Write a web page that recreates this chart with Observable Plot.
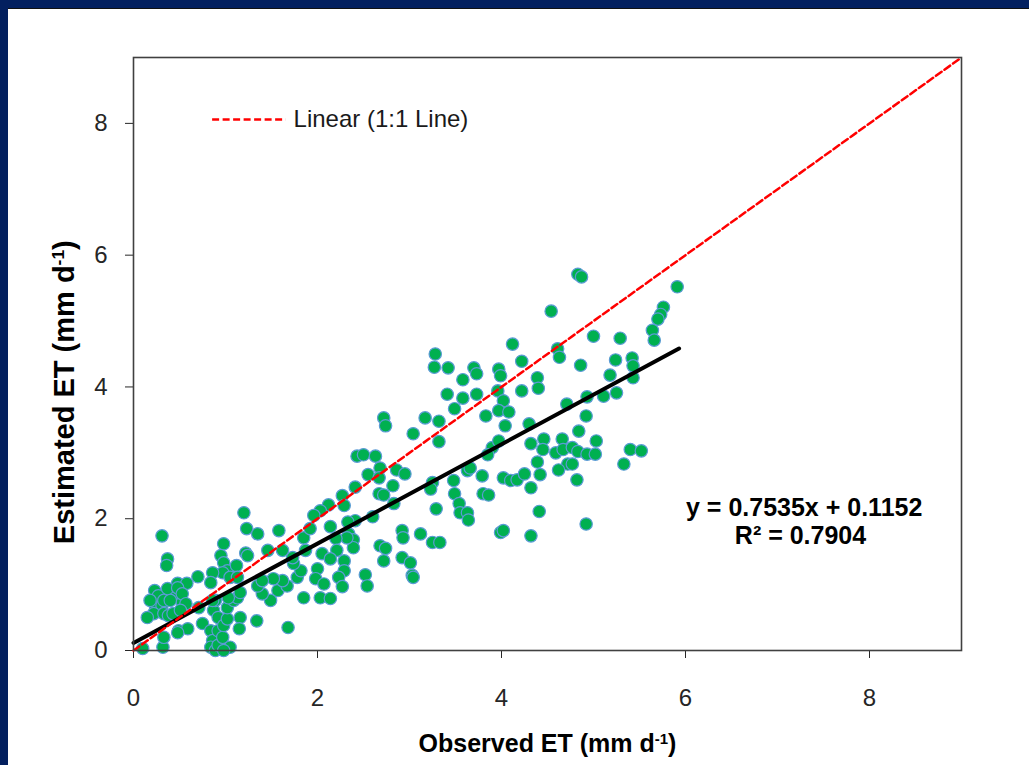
<!DOCTYPE html>
<html><head><meta charset="utf-8">
<script src="https://cdn.jsdelivr.net/npm/d3@7"></script>
<script src="https://cdn.jsdelivr.net/npm/@observablehq/plot@0.6"></script>
<style>
html,body{margin:0;padding:0;}
body{width:1029px;height:765px;background:#03205f;position:relative;overflow:hidden;}
#panel{position:absolute;left:8px;top:8px;right:0;bottom:0;background:#fff;border-top:1px solid #111;}
#chart{position:absolute;left:0;top:0;}
</style></head><body><div id="panel"></div><div id="chart"></div>
<script>
// Observed ET (mm/d) and estimated ET (mm/d)
const observed = [
  0.31,0.37,0.36,1.20,1.23,1.35,1.58,0.98,0.95,0.98,1.02,0.97,1.05,1.22,1.24,1.46,0.70,0.86,0.84,1.12,
  1.13,0.48,0.58,0.23,0.27,0.24,0.31,0.22,0.33,0.38,0.43,0.53,0.15,0.43,0.49,0.59,0.32,0.10,0.75,0.87,
  0.92,0.89,0.86,0.84,0.86,0.84,0.89,0.92,0.92,0.97,0.98,1.02,1.02,1.09,1.13,1.03,1.16,1.16,1.15,1.05,
  0.98,1.34,1.68,1.49,1.40,1.57,1.67,1.62,1.78,1.82,1.74,1.73,1.62,1.85,1.52,1.35,1.40,1.85,1.87,0.18,
  0.33,0.40,0.37,0.48,0.53,0.57,0.51,0.71,0.48,0.33,
  4.12,3.28,3.27,3.42,3.70,3.73,3.97,3.99,3.58,3.41,3.58,3.73,3.49,3.96,4.02,3.97,4.08,4.04,3.83,4.22,
  2.72,2.74,3.17,3.32,3.04,3.32,2.43,2.50,2.63,2.55,2.68,2.67,2.86,2.95,2.82,2.67,2.72,2.83,2.41,2.27,
  2.29,2.12,2.03,1.96,2.60,2.41,2.33,2.14,1.92,2.34,2.39,2.39,2.32,2.20,2.21,2.05,2.14,2.29,2.29,2.23,
  2.27,2.00,1.98,2.07,2.03,2.14,2.52,2.54,2.92,2.93,3.12,3.25,3.33,2.68,2.74,2.72,2.92,3.01,3.03,3.04,
  3.29,3.25,3.23,3.48,3.49,3.54,3.55,3.63,3.64,3.63,3.66,3.79,3.80,3.86,3.90,3.85,3.97,4.02,4.10,4.17,
  3.99,4.02,
  4.83,4.87,5.91,4.54,5.76,5.73,5.70,5.64,5.66,5.00,5.29,4.61,4.63,4.22,4.86,5.24,5.42,5.43,5.43,5.18,
  4.39,4.40,5.25,5.11,4.93,4.71,4.92,4.84,5.03,4.30,4.32,4.46,4.45,4.39,4.59,4.66,4.67,4.77,4.83,4.93,
  5.02,4.72,4.62,4.77,4.42,4.82,5.40,5.52,5.33,4.25,4.32,4.41,4.92,4.32
];
const estimated = [
  1.74,1.39,1.29,2.09,1.85,1.77,1.82,1.62,1.44,1.33,1.21,1.18,1.11,1.48,1.44,1.52,1.12,1.18,1.03,1.29,
  1.11,1.02,1.02,0.91,0.83,0.65,0.68,0.56,0.56,0.53,0.83,0.73,0.50,0.56,0.30,0.33,0.05,0.03,0.41,0.61,
  0.50,0.76,0.76,0.30,0.15,0.05,0.00,0.30,0.08,0.20,0.38,0.48,0.65,0.76,0.80,0.80,0.88,0.50,0.33,0.05,
  0.00,0.45,0.35,0.76,0.86,0.91,0.98,1.06,1.11,1.21,1.32,1.41,1.52,0.80,1.09,0.98,1.06,1.71,1.52,0.76,
  0.76,0.76,0.94,0.95,0.86,0.71,0.61,0.65,0.27,0.20,
  4.65,4.50,4.30,4.29,4.29,4.20,4.27,4.17,4.11,3.89,3.83,3.89,3.67,3.94,3.79,3.64,3.62,3.41,3.56,3.94,
  3.53,3.41,3.53,3.48,3.29,3.17,2.95,2.97,2.95,2.67,2.77,2.62,2.74,2.68,2.50,2.38,2.36,2.23,2.48,2.35,
  2.20,2.21,2.12,2.05,2.03,1.97,1.95,1.88,1.85,1.77,1.68,1.56,1.71,1.70,1.52,1.47,1.39,1.36,1.21,1.11,
  0.97,1.24,1.09,1.01,0.80,0.79,1.15,0.98,1.82,1.71,1.77,1.64,1.64,1.59,1.55,1.36,1.41,1.33,1.14,1.11,
  2.15,2.55,2.45,2.58,2.38,2.23,2.09,2.09,1.98,2.73,2.77,2.65,2.38,2.36,3.08,2.97,3.18,2.62,2.58,2.59,
  1.79,1.82,
  5.71,5.67,5.52,5.15,5.21,5.10,5.03,4.86,4.71,4.77,4.74,4.58,4.45,4.39,4.33,4.41,4.44,4.32,4.14,4.18,
  4.14,3.98,3.91,3.86,3.85,3.74,3.56,3.33,3.18,3.44,3.14,3.21,3.05,2.86,3.00,3.21,3.05,3.08,3.02,2.98,
  2.98,2.83,2.74,2.83,2.67,2.59,3.05,3.03,2.83,2.68,2.47,2.11,1.92,1.74
];
const xTicks = [0, 2, 4, 6, 8];
const yTicks = [0, 2, 4, 6, 8];
const axisDomain = [0, 9];
const slope = 0.7535, intercept = 0.1152, rSquared = 0.7904;
const fitExtent = [0, 5.93];
const xTitle = "Observed ET (mm d{-1})";
const yTitle = "Estimated ET (mm d{-1})";
const legendLabel = "Linear (1:1 Line)";
const eqLine1 = `y = ${slope}x + ${intercept}`;
const eqLine2 = `R² = ${rSquared}`;

const points = observed.map((x, i) => ({x, y: estimated[i]}));
const fitLine = fitExtent.map(x => ({x, y: slope * x + intercept}));
const identityLine = axisDomain.map(v => ({x: v, y: v}));

const FONT = "'Liberation Sans', Arial, sans-serif";

const plot = Plot.plot({
  width: 1029, height: 765,
  marginLeft: 133, marginRight: 68, marginTop: 57, marginBottom: 115,
  style: {background: "transparent", fontFamily: FONT, fontSize: "24px", color: "#262626", overflow: "visible"},
  x: {domain: axisDomain, ticks: xTicks, tickSize: 8, tickPadding: 30, label: null},
  y: {domain: axisDomain, ticks: yTicks, tickSize: 8, tickPadding: 18, label: null},
  marks: [
    Plot.dot(points, {x: "x", y: "y", r: 6.2, fill: "#00b050", stroke: "#5b9bd5", strokeWidth: 1.2}),
    Plot.line(fitLine, {x: "x", y: "y", stroke: "#000", strokeWidth: 4}),
    Plot.line(identityLine, {x: "x", y: "y", stroke: "#ff0000", strokeWidth: 2.5, strokeDasharray: "7,3.5"}),
    Plot.frame({stroke: "#404040", strokeWidth: 1.6}),
    Plot.ruleY([8.06], {x1: 0.86, x2: 1.66, stroke: "#ff0000", strokeWidth: 2.5, strokeDasharray: "7,3.5"}),
    Plot.text([legendLabel], {x: 1.74, y: 8.06, text: d => d, textAnchor: "start", fontSize: 24, fill: "#1a1a1a"}),
    Plot.text([eqLine1], {x: 7.29, y: 2.16, text: d => d, fontSize: 25, fontWeight: "bold", fill: "#000"}),
    Plot.text([eqLine2], {x: 7.25, y: 1.74, text: d => d, fontSize: 25, fontWeight: "bold", fill: "#000"}),
    Plot.text([xTitle], {frameAnchor: "bottom", dy: 101, text: d => d, fontSize: 25, fontWeight: "bold", fill: "#000"}),
    Plot.text([yTitle], {x: -0.75, y: 3.92, rotate: -90, text: d => d, fontSize: 29, fontWeight: "bold", fill: "#000"})
  ]
});

// superscripts for "{...}" markers
d3.select(plot).selectAll("text").each(function () {
  const t = this.textContent;
  const m = t.match(/^(.*)\{(.*)\}(.*)$/);
  if (!m) return;
  const sel = d3.select(this);
  sel.text(null);
  sel.append("tspan").text(m[1]);
  sel.append("tspan").attr("baseline-shift", "super").attr("font-size", "0.6em").text(m[2]);
  sel.append("tspan").text(m[3]);
});

document.getElementById("chart").append(plot);
</script>
</body></html>
